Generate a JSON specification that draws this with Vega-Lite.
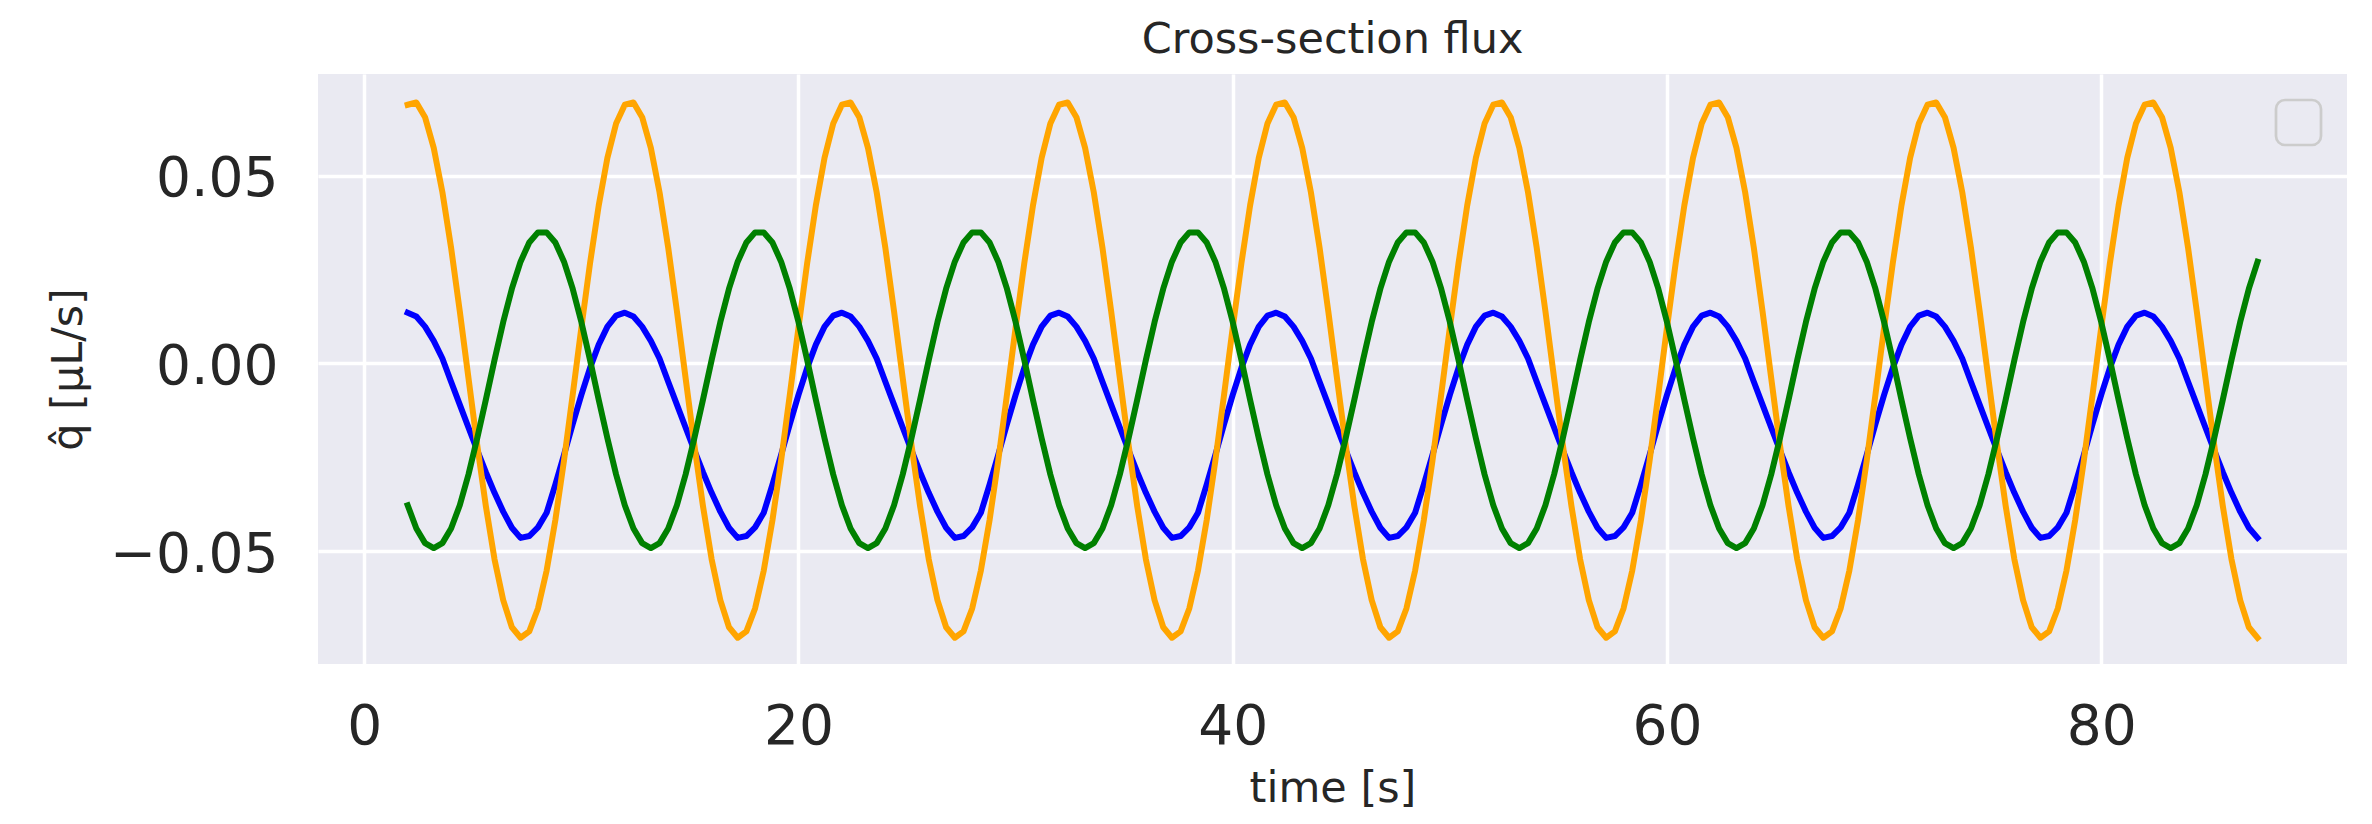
{
"$schema": "https://vega.github.io/schema/vega-lite/v6.json",
"autosize": {"type": "none"},
"padding": {"left": 318, "top": 74, "right": 25, "bottom": 160},
"width": 2029,
"height": 590,
"background": "white",
"title": {"text": "Cross-section flux", "font": "DejaVu Sans", "fontSize": 43, "fontWeight": "normal", "color": "#262626", "anchor": "middle", "baseline": "alphabetic", "offset": 22, "dy": 44},
"config": {
  "view": {"fill": "#EAEAF2", "stroke": null},
  "axis": {"grid": true, "gridColor": "white", "gridWidth": 3.5, "ticks": false, "domain": false, "labelFont": "DejaVu Sans", "labelColor": "#262626", "labelFontSize": 55, "titleFont": "DejaVu Sans", "titleFontSize": 43, "titleFontWeight": "normal", "titleColor": "#262626"},
  "legend": {"strokeWidth": 2.7}
},
"data": {"values": [
{"t":2,"o":0.0689,"g":-0.0378,"b":0.0135},{"t":2.4,"o":0.0695,"g":-0.044,"b":0.0125},{"t":2.8,"o":0.0656,"g":-0.0479,"b":0.0098},{"t":3.2,"o":0.0574,"g":-0.0492,"b":0.006},{"t":3.6,"o":0.0456,"g":-0.0479,"b":0.0013},{"t":4,"o":0.0308,"g":-0.044,"b":-0.0049},{"t":4.4,"o":0.0139,"g":-0.0378,"b":-0.011},{"t":4.8,"o":-0.0039,"g":-0.0296,"b":-0.0171},{"t":5.2,"o":-0.0216,"g":-0.02,"b":-0.0231},{"t":5.6,"o":-0.038,"g":-0.0097,"b":-0.029},{"t":6,"o":-0.0522,"g":0.0009,"b":-0.0345},{"t":6.4,"o":-0.0631,"g":0.011,"b":-0.0395},{"t":6.8,"o":-0.0703,"g":0.0199,"b":-0.0438},{"t":7.2,"o":-0.0731,"g":0.0271,"b":-0.0465},{"t":7.6,"o":-0.0714,"g":0.0322,"b":-0.046},{"t":8,"o":-0.0653,"g":0.0349,"b":-0.0437},{"t":8.4,"o":-0.0552,"g":0.0349,"b":-0.0398},{"t":8.8,"o":-0.0418,"g":0.0322,"b":-0.0323},{"t":9.2,"o":-0.0259,"g":0.0271,"b":-0.0244},{"t":9.6,"o":-0.0084,"g":0.0199,"b":-0.0162},{"t":10,"o":0.0095,"g":0.011,"b":-0.0084},{"t":10.4,"o":0.0267,"g":0.0009,"b":-0.0012},{"t":10.8,"o":0.0421,"g":-0.0097,"b":0.005},{"t":11.2,"o":0.0548,"g":-0.02,"b":0.0098},{"t":11.6,"o":0.0639,"g":-0.0296,"b":0.0127},
{"t":12,"o":0.0689,"g":-0.0378,"b":0.0135},{"t":12.4,"o":0.0695,"g":-0.044,"b":0.0125},{"t":12.8,"o":0.0656,"g":-0.0479,"b":0.0098},{"t":13.2,"o":0.0574,"g":-0.0492,"b":0.006},{"t":13.6,"o":0.0456,"g":-0.0479,"b":0.0013},{"t":14,"o":0.0308,"g":-0.044,"b":-0.0049},{"t":14.4,"o":0.0139,"g":-0.0378,"b":-0.011},{"t":14.8,"o":-0.0039,"g":-0.0296,"b":-0.0171},{"t":15.2,"o":-0.0216,"g":-0.02,"b":-0.0231},{"t":15.6,"o":-0.038,"g":-0.0097,"b":-0.029},{"t":16,"o":-0.0522,"g":0.0009,"b":-0.0345},{"t":16.4,"o":-0.0631,"g":0.011,"b":-0.0395},{"t":16.8,"o":-0.0703,"g":0.0199,"b":-0.0438},{"t":17.2,"o":-0.0731,"g":0.0271,"b":-0.0465},{"t":17.6,"o":-0.0714,"g":0.0322,"b":-0.046},{"t":18,"o":-0.0653,"g":0.0349,"b":-0.0437},{"t":18.4,"o":-0.0552,"g":0.0349,"b":-0.0398},{"t":18.8,"o":-0.0418,"g":0.0322,"b":-0.0323},{"t":19.2,"o":-0.0259,"g":0.0271,"b":-0.0244},{"t":19.6,"o":-0.0084,"g":0.0199,"b":-0.0162},{"t":20,"o":0.0095,"g":0.011,"b":-0.0084},{"t":20.4,"o":0.0267,"g":0.0009,"b":-0.0012},{"t":20.8,"o":0.0421,"g":-0.0097,"b":0.005},{"t":21.2,"o":0.0548,"g":-0.02,"b":0.0098},{"t":21.6,"o":0.0639,"g":-0.0296,"b":0.0127},
{"t":22,"o":0.0689,"g":-0.0378,"b":0.0135},{"t":22.4,"o":0.0695,"g":-0.044,"b":0.0125},{"t":22.8,"o":0.0656,"g":-0.0479,"b":0.0098},{"t":23.2,"o":0.0574,"g":-0.0492,"b":0.006},{"t":23.6,"o":0.0456,"g":-0.0479,"b":0.0013},{"t":24,"o":0.0308,"g":-0.044,"b":-0.0049},{"t":24.4,"o":0.0139,"g":-0.0378,"b":-0.011},{"t":24.8,"o":-0.0039,"g":-0.0296,"b":-0.0171},{"t":25.2,"o":-0.0216,"g":-0.02,"b":-0.0231},{"t":25.6,"o":-0.038,"g":-0.0097,"b":-0.029},{"t":26,"o":-0.0522,"g":0.0009,"b":-0.0345},{"t":26.4,"o":-0.0631,"g":0.011,"b":-0.0395},{"t":26.8,"o":-0.0703,"g":0.0199,"b":-0.0438},{"t":27.2,"o":-0.0731,"g":0.0271,"b":-0.0465},{"t":27.6,"o":-0.0714,"g":0.0322,"b":-0.046},{"t":28,"o":-0.0653,"g":0.0349,"b":-0.0437},{"t":28.4,"o":-0.0552,"g":0.0349,"b":-0.0398},{"t":28.8,"o":-0.0418,"g":0.0322,"b":-0.0323},{"t":29.2,"o":-0.0259,"g":0.0271,"b":-0.0244},{"t":29.6,"o":-0.0084,"g":0.0199,"b":-0.0162},{"t":30,"o":0.0095,"g":0.011,"b":-0.0084},{"t":30.4,"o":0.0267,"g":0.0009,"b":-0.0012},{"t":30.8,"o":0.0421,"g":-0.0097,"b":0.005},{"t":31.2,"o":0.0548,"g":-0.02,"b":0.0098},{"t":31.6,"o":0.0639,"g":-0.0296,"b":0.0127},
{"t":32,"o":0.0689,"g":-0.0378,"b":0.0135},{"t":32.4,"o":0.0695,"g":-0.044,"b":0.0125},{"t":32.8,"o":0.0656,"g":-0.0479,"b":0.0098},{"t":33.2,"o":0.0574,"g":-0.0492,"b":0.006},{"t":33.6,"o":0.0456,"g":-0.0479,"b":0.0013},{"t":34,"o":0.0308,"g":-0.044,"b":-0.0049},{"t":34.4,"o":0.0139,"g":-0.0378,"b":-0.011},{"t":34.8,"o":-0.0039,"g":-0.0296,"b":-0.0171},{"t":35.2,"o":-0.0216,"g":-0.02,"b":-0.0231},{"t":35.6,"o":-0.038,"g":-0.0097,"b":-0.029},{"t":36,"o":-0.0522,"g":0.0009,"b":-0.0345},{"t":36.4,"o":-0.0631,"g":0.011,"b":-0.0395},{"t":36.8,"o":-0.0703,"g":0.0199,"b":-0.0438},{"t":37.2,"o":-0.0731,"g":0.0271,"b":-0.0465},{"t":37.6,"o":-0.0714,"g":0.0322,"b":-0.046},{"t":38,"o":-0.0653,"g":0.0349,"b":-0.0437},{"t":38.4,"o":-0.0552,"g":0.0349,"b":-0.0398},{"t":38.8,"o":-0.0418,"g":0.0322,"b":-0.0323},{"t":39.2,"o":-0.0259,"g":0.0271,"b":-0.0244},{"t":39.6,"o":-0.0084,"g":0.0199,"b":-0.0162},{"t":40,"o":0.0095,"g":0.011,"b":-0.0084},{"t":40.4,"o":0.0267,"g":0.0009,"b":-0.0012},{"t":40.8,"o":0.0421,"g":-0.0097,"b":0.005},{"t":41.2,"o":0.0548,"g":-0.02,"b":0.0098},{"t":41.6,"o":0.0639,"g":-0.0296,"b":0.0127},
{"t":42,"o":0.0689,"g":-0.0378,"b":0.0135},{"t":42.4,"o":0.0695,"g":-0.044,"b":0.0125},{"t":42.8,"o":0.0656,"g":-0.0479,"b":0.0098},{"t":43.2,"o":0.0574,"g":-0.0492,"b":0.006},{"t":43.6,"o":0.0456,"g":-0.0479,"b":0.0013},{"t":44,"o":0.0308,"g":-0.044,"b":-0.0049},{"t":44.4,"o":0.0139,"g":-0.0378,"b":-0.011},{"t":44.8,"o":-0.0039,"g":-0.0296,"b":-0.0171},{"t":45.2,"o":-0.0216,"g":-0.02,"b":-0.0231},{"t":45.6,"o":-0.038,"g":-0.0097,"b":-0.029},{"t":46,"o":-0.0522,"g":0.0009,"b":-0.0345},{"t":46.4,"o":-0.0631,"g":0.011,"b":-0.0395},{"t":46.8,"o":-0.0703,"g":0.0199,"b":-0.0438},{"t":47.2,"o":-0.0731,"g":0.0271,"b":-0.0465},{"t":47.6,"o":-0.0714,"g":0.0322,"b":-0.046},{"t":48,"o":-0.0653,"g":0.0349,"b":-0.0437},{"t":48.4,"o":-0.0552,"g":0.0349,"b":-0.0398},{"t":48.8,"o":-0.0418,"g":0.0322,"b":-0.0323},{"t":49.2,"o":-0.0259,"g":0.0271,"b":-0.0244},{"t":49.6,"o":-0.0084,"g":0.0199,"b":-0.0162},{"t":50,"o":0.0095,"g":0.011,"b":-0.0084},{"t":50.4,"o":0.0267,"g":0.0009,"b":-0.0012},{"t":50.8,"o":0.0421,"g":-0.0097,"b":0.005},{"t":51.2,"o":0.0548,"g":-0.02,"b":0.0098},{"t":51.6,"o":0.0639,"g":-0.0296,"b":0.0127},
{"t":52,"o":0.0689,"g":-0.0378,"b":0.0135},{"t":52.4,"o":0.0695,"g":-0.044,"b":0.0125},{"t":52.8,"o":0.0656,"g":-0.0479,"b":0.0098},{"t":53.2,"o":0.0574,"g":-0.0492,"b":0.006},{"t":53.6,"o":0.0456,"g":-0.0479,"b":0.0013},{"t":54,"o":0.0308,"g":-0.044,"b":-0.0049},{"t":54.4,"o":0.0139,"g":-0.0378,"b":-0.011},{"t":54.8,"o":-0.0039,"g":-0.0296,"b":-0.0171},{"t":55.2,"o":-0.0216,"g":-0.02,"b":-0.0231},{"t":55.6,"o":-0.038,"g":-0.0097,"b":-0.029},{"t":56,"o":-0.0522,"g":0.0009,"b":-0.0345},{"t":56.4,"o":-0.0631,"g":0.011,"b":-0.0395},{"t":56.8,"o":-0.0703,"g":0.0199,"b":-0.0438},{"t":57.2,"o":-0.0731,"g":0.0271,"b":-0.0465},{"t":57.6,"o":-0.0714,"g":0.0322,"b":-0.046},{"t":58,"o":-0.0653,"g":0.0349,"b":-0.0437},{"t":58.4,"o":-0.0552,"g":0.0349,"b":-0.0398},{"t":58.8,"o":-0.0418,"g":0.0322,"b":-0.0323},{"t":59.2,"o":-0.0259,"g":0.0271,"b":-0.0244},{"t":59.6,"o":-0.0084,"g":0.0199,"b":-0.0162},{"t":60,"o":0.0095,"g":0.011,"b":-0.0084},{"t":60.4,"o":0.0267,"g":0.0009,"b":-0.0012},{"t":60.8,"o":0.0421,"g":-0.0097,"b":0.005},{"t":61.2,"o":0.0548,"g":-0.02,"b":0.0098},{"t":61.6,"o":0.0639,"g":-0.0296,"b":0.0127},
{"t":62,"o":0.0689,"g":-0.0378,"b":0.0135},{"t":62.4,"o":0.0695,"g":-0.044,"b":0.0125},{"t":62.8,"o":0.0656,"g":-0.0479,"b":0.0098},{"t":63.2,"o":0.0574,"g":-0.0492,"b":0.006},{"t":63.6,"o":0.0456,"g":-0.0479,"b":0.0013},{"t":64,"o":0.0308,"g":-0.044,"b":-0.0049},{"t":64.4,"o":0.0139,"g":-0.0378,"b":-0.011},{"t":64.8,"o":-0.0039,"g":-0.0296,"b":-0.0171},{"t":65.2,"o":-0.0216,"g":-0.02,"b":-0.0231},{"t":65.6,"o":-0.038,"g":-0.0097,"b":-0.029},{"t":66,"o":-0.0522,"g":0.0009,"b":-0.0345},{"t":66.4,"o":-0.0631,"g":0.011,"b":-0.0395},{"t":66.8,"o":-0.0703,"g":0.0199,"b":-0.0438},{"t":67.2,"o":-0.0731,"g":0.0271,"b":-0.0465},{"t":67.6,"o":-0.0714,"g":0.0322,"b":-0.046},{"t":68,"o":-0.0653,"g":0.0349,"b":-0.0437},{"t":68.4,"o":-0.0552,"g":0.0349,"b":-0.0398},{"t":68.8,"o":-0.0418,"g":0.0322,"b":-0.0323},{"t":69.2,"o":-0.0259,"g":0.0271,"b":-0.0244},{"t":69.6,"o":-0.0084,"g":0.0199,"b":-0.0162},{"t":70,"o":0.0095,"g":0.011,"b":-0.0084},{"t":70.4,"o":0.0267,"g":0.0009,"b":-0.0012},{"t":70.8,"o":0.0421,"g":-0.0097,"b":0.005},{"t":71.2,"o":0.0548,"g":-0.02,"b":0.0098},{"t":71.6,"o":0.0639,"g":-0.0296,"b":0.0127},
{"t":72,"o":0.0689,"g":-0.0378,"b":0.0135},{"t":72.4,"o":0.0695,"g":-0.044,"b":0.0125},{"t":72.8,"o":0.0656,"g":-0.0479,"b":0.0098},{"t":73.2,"o":0.0574,"g":-0.0492,"b":0.006},{"t":73.6,"o":0.0456,"g":-0.0479,"b":0.0013},{"t":74,"o":0.0308,"g":-0.044,"b":-0.0049},{"t":74.4,"o":0.0139,"g":-0.0378,"b":-0.011},{"t":74.8,"o":-0.0039,"g":-0.0296,"b":-0.0171},{"t":75.2,"o":-0.0216,"g":-0.02,"b":-0.0231},{"t":75.6,"o":-0.038,"g":-0.0097,"b":-0.029},{"t":76,"o":-0.0522,"g":0.0009,"b":-0.0345},{"t":76.4,"o":-0.0631,"g":0.011,"b":-0.0395},{"t":76.8,"o":-0.0703,"g":0.0199,"b":-0.0438},{"t":77.2,"o":-0.0731,"g":0.0271,"b":-0.0465},{"t":77.6,"o":-0.0714,"g":0.0322,"b":-0.046},{"t":78,"o":-0.0653,"g":0.0349,"b":-0.0437},{"t":78.4,"o":-0.0552,"g":0.0349,"b":-0.0398},{"t":78.8,"o":-0.0418,"g":0.0322,"b":-0.0323},{"t":79.2,"o":-0.0259,"g":0.0271,"b":-0.0244},{"t":79.6,"o":-0.0084,"g":0.0199,"b":-0.0162},{"t":80,"o":0.0095,"g":0.011,"b":-0.0084},{"t":80.4,"o":0.0267,"g":0.0009,"b":-0.0012},{"t":80.8,"o":0.0421,"g":-0.0097,"b":0.005},{"t":81.2,"o":0.0548,"g":-0.02,"b":0.0098},{"t":81.6,"o":0.0639,"g":-0.0296,"b":0.0127},
{"t":82,"o":0.0689,"g":-0.0378,"b":0.0135},{"t":82.4,"o":0.0695,"g":-0.044,"b":0.0125},{"t":82.8,"o":0.0656,"g":-0.0479,"b":0.0098},{"t":83.2,"o":0.0574,"g":-0.0492,"b":0.006},{"t":83.6,"o":0.0456,"g":-0.0479,"b":0.0013},{"t":84,"o":0.0308,"g":-0.044,"b":-0.0049},{"t":84.4,"o":0.0139,"g":-0.0378,"b":-0.011},{"t":84.8,"o":-0.0039,"g":-0.0296,"b":-0.0171},{"t":85.2,"o":-0.0216,"g":-0.02,"b":-0.0231},{"t":85.6,"o":-0.038,"g":-0.0097,"b":-0.029},{"t":86,"o":-0.0522,"g":0.0009,"b":-0.0345},{"t":86.4,"o":-0.0631,"g":0.011,"b":-0.0395},{"t":86.8,"o":-0.0703,"g":0.0199,"b":-0.0438},{"t":87.2,"o":-0.0731,"g":0.0271,"b":-0.0465}
]},
"encoding": {
  "x": {"field": "t", "type": "quantitative", "scale": {"domain": [-2.13, 91.32], "nice": false, "zero": false}, "axis": {"values": [0, 20, 40, 60, 80], "title": "time [s]", "labelPadding": 36, "titlePadding": 13}}
},
"layer": [
  {"mark": {"type": "line", "color": "blue", "strokeWidth": 6, "strokeJoin": "round", "strokeCap": "square"},
   "encoding": {"y": {"field": "b", "type": "quantitative", "scale": {"domain": [-0.0801, 0.0771], "nice": false, "zero": false}, "axis": {"values": [-0.05, 0, 0.05], "format": ".2f", "title": "q̂ [μL/s]", "labelPadding": 40, "labelBaseline": "alphabetic", "labelOffset": 20, "titlePadding": 28}},
     "color": {"datum": "q", "scale": {"range": ["blue"]}, "legend": {"orient": "top-right", "offset": 26, "title": null, "padding": 22, "fillColor": "#EAEAF2", "strokeColor": "#cccccc", "cornerRadius": 9, "symbolOpacity": 0, "symbolSize": 1, "symbolStrokeWidth": 0, "labelExpr": "''", "labelFontSize": 1, "labelOffset": 0}}}},
  {"mark": {"type": "line", "color": "orange", "strokeWidth": 6, "strokeJoin": "round", "strokeCap": "square"},
   "encoding": {"y": {"field": "o", "type": "quantitative"}}},
  {"mark": {"type": "line", "color": "green", "strokeWidth": 6, "strokeJoin": "round", "strokeCap": "square"},
   "encoding": {"y": {"field": "g", "type": "quantitative"}}}
]
}
